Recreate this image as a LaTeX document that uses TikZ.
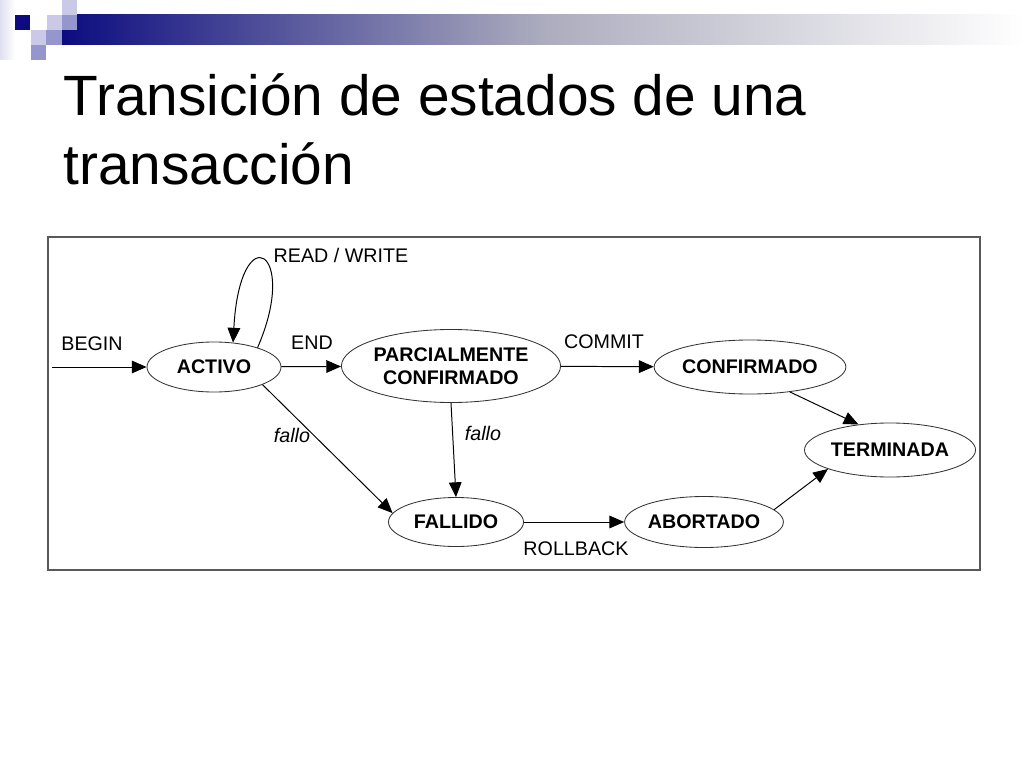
\documentclass[tikz,border=0pt]{standalone}
\usepackage{fontspec}
\setmainfont{Liberation Sans}
\usepackage{tikz}
\usetikzlibrary{arrows.meta}
\usetikzlibrary{shapes}

\definecolor{navy}{RGB}{12,12,128}
\definecolor{lavlight}{RGB}{202,202,232}
\definecolor{lavmid}{RGB}{150,150,206}
\definecolor{barmid}{RGB}{172,172,190}

\begin{document}
\begin{tikzpicture}[x=0.025cm,y=-0.025cm,
	every node/.style={inner sep=0pt,font=\fontsize{14}{16.3}\selectfont},
	state/.style={draw=black!80,line width=0.6pt,ellipse,align=center,font=\fontsize{14}{16.3}\selectfont\bfseries},
	>={Triangle[length=10.5pt,width=9pt]},line width=0.7pt]
\useasboundingbox (0,0) rectangle (1024,768);
% cabecera
\shade[left color=lavlight!60,right color=white] (0,0) rectangle (15,60);
\shade[left color=navy,right color=white,middle color=barmid] (62,15) rectangle (1024,45);
\fill[navy] (15,15) rectangle (30,30);
\fill[lavlight] (62,0) rectangle (77,15);
\fill[lavlight] (47,15) rectangle (62,30);
\fill[lavmid] (62,15) rectangle (77,30);
\fill[lavlight] (31,30) rectangle (46,45);
\fill[lavmid] (46,30) rectangle (62,45);
\fill[lavmid] (31,45) rectangle (46,60);
\node[anchor=base west,font=\fontsize{40.4}{48}\selectfont] (tit1) at (63,116) {Transición de estados de una};
\node[anchor=base west,font=\fontsize{40.4}{48}\selectfont] (tit2) at (63,184) {transacción};
% diagrama
\draw[black!65,line width=1pt] (48,237) rectangle (980,570);
\node[state,minimum width=3.35cm,minimum height=1.25cm] (act) at (214,367) {ACTIVO};
\node[state,minimum width=5.45cm,minimum height=1.825cm] (par) at (451,366) {PARCIALMENTE\\CONFIRMADO};
\node[state,minimum width=4.75cm,minimum height=1.35cm] (con) at (750,367) {CONFIRMADO};
\node[state,minimum width=4.275cm,minimum height=1.35cm] (ter) at (890,450) {TERMINADA};
\node[state,minimum width=3.375cm,minimum height=1.225cm] (fal) at (456,522) {FALLIDO};
\node[state,minimum width=3.9cm,minimum height=1.275cm] (abo) at (704,522) {ABORTADO};
\coordinate (ini) at (52,367);
\draw[->] (ini) -- (act);
\draw[->] (act.24) .. controls (300,250) and (240,215) .. (act.52);
\draw[->] (act) -- (par);
\draw[->] (par) -- (con);
\draw[->] (act.-20) -- (fal.172);
\draw[->] (par.south) -- (fal.north);
\draw[->] (fal) -- (abo);
\draw[->] (con.-32) -- (ter.141);
\draw[->] (abo.10) -- (ter.197);
\node (lbeg) at (92,344) {BEGIN};
\node (lrw) at (341,255) {READ / WRITE};
\node (lend) at (312,343) {END};
\node (lcom) at (604,342) {COMMIT};
\node[font=\fontsize{14}{16.3}\selectfont\itshape] (lfa) at (292,435) {fallo};
\node[font=\fontsize{14}{16.3}\selectfont\itshape] (lfb) at (483,433) {fallo};
\node (lrol) at (576,549) {ROLLBACK};
\end{tikzpicture}
\end{document}
